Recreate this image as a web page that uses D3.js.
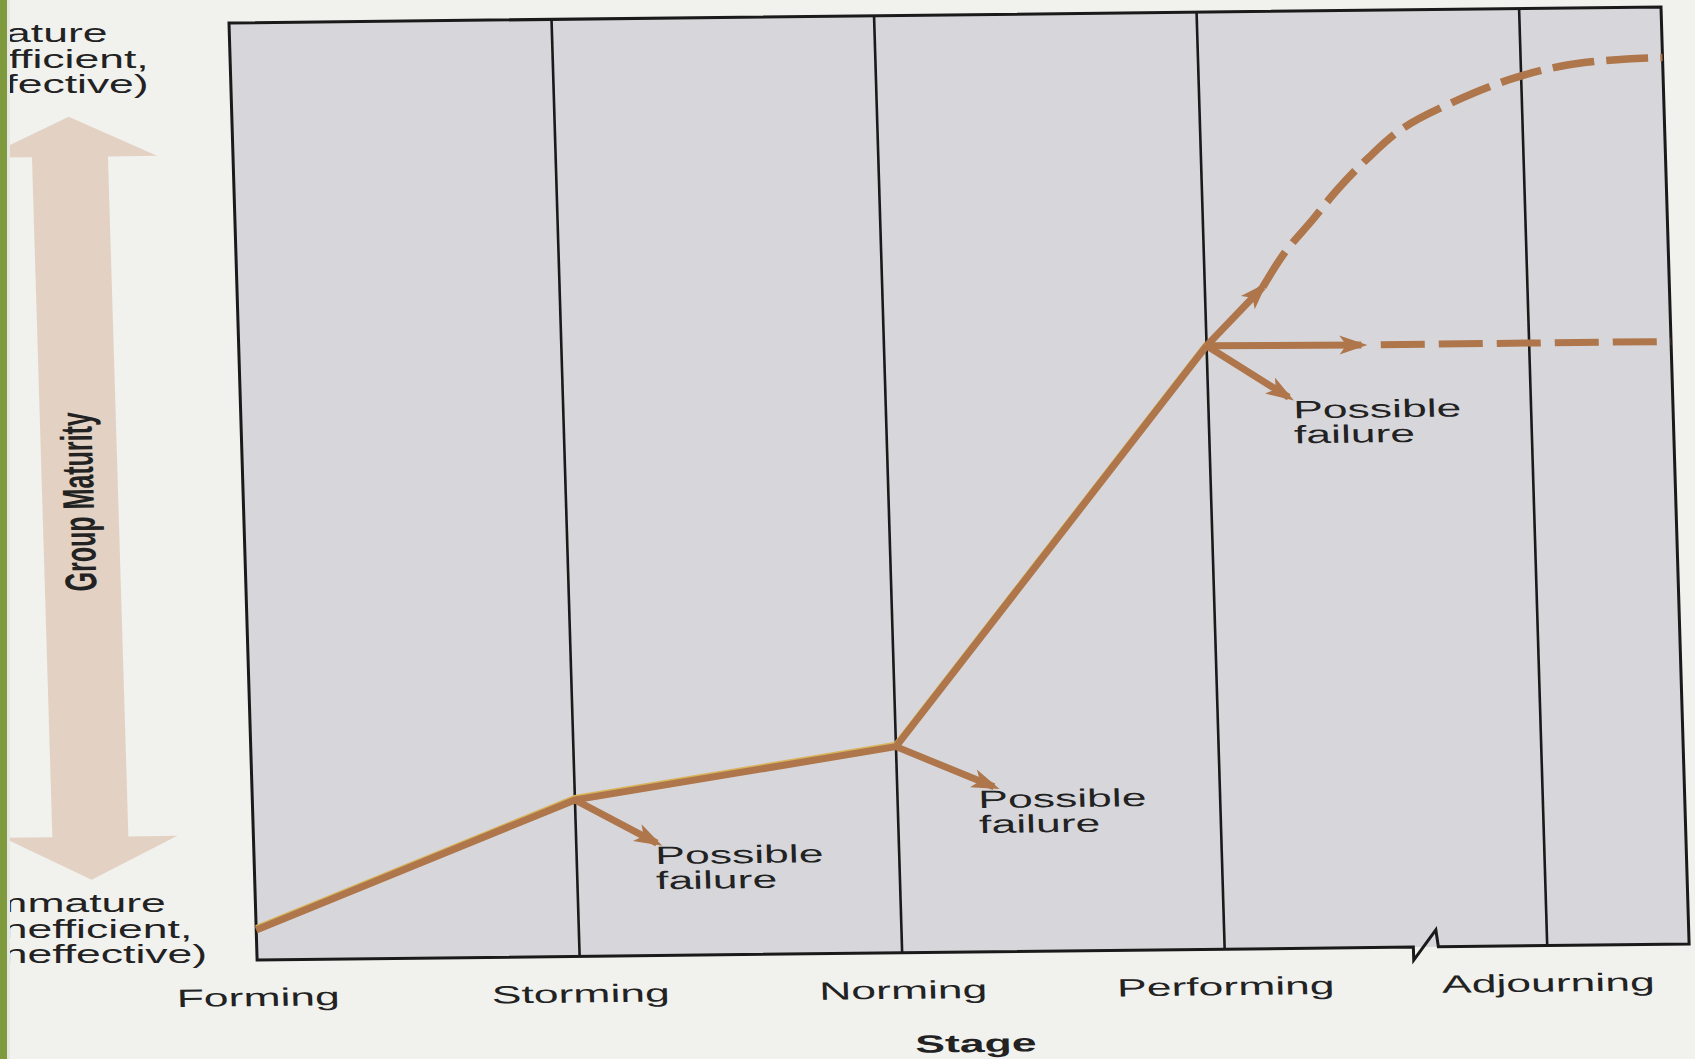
<!DOCTYPE html>
<html>
<head>
<meta charset="utf-8">
<script src="https://cdn.jsdelivr.net/npm/d3@7/dist/d3.min.js"></script>
<style>
  body { margin: 0; background: #f1f1ee; overflow: hidden; }
  text { font-family: "Liberation Sans", Arial, sans-serif; fill: #222; }
</style>
</head>
<body>
<div id="my_dataviz"></div>
<script>

// stages along the bottom (each one is a vertical line)
var stages = ["Forming", "Storming", "Norming", "Performing", "Adjourning"];
// group maturity (0-100) reached at the Forming..Performing lines
var maturity = [3.2, 16.7, 22.0, 64.4];
// "Possible failure" arrows: start stage and tip [stage position, maturity]
var failureFrom = [1, 2, 3];
var failureTip = [[1.25, 12.0], [2.30, 17.6], [3.25, 58.8]];
// after performing: keep growing (dashed curve) ...
var growthArrow = [3.18, 70.6];
var growthCurve = [[3.18, 70.6], [3.25, 74.2], [3.34, 77.7], [3.42, 80.9], [3.52, 84.3],
                   [3.63, 87.4], [3.78, 90.0], [3.96, 92.4], [4.14, 93.9], [4.33, 94.5], [4.44, 94.6]];
// ... or stay level (dashed straight line)
var steadyArrow = [3.48, 64.3];
var steadyLine = [[3.54, 64.3], [4.44, 64.3]];
var stageMax = 4.44;
var leftTop = ["Mature", "(efficient,", "effective)"];
var leftBottom = ["Immature", "(inefficient,", "(ineffective)"];

var fullW = 1695, fullH = 1059;
var width = 1432, height = 937;
var lineColor = "#ae764a";
var stretch = 1.78;   // the scan is wider than tall
var labelDx = [0, -14, 6];

var svg = d3.select("#my_dataviz")
    .append("svg")
    .attr("width", fullW)
    .attr("height", fullH);

svg.append("rect").attr("width", fullW).attr("height", fullH).attr("fill", "#f1f1ee");

// arrow head marker
svg.append("defs").append("marker")
    .attr("id", "head")
    .attr("viewBox", "-30 -11 32 22")
    .attr("refX", -6).attr("refY", 0)
    .attr("markerWidth", 32).attr("markerHeight", 22)
    .attr("markerUnits", "userSpaceOnUse")
    .attr("orient", "auto")
    .append("path")
    .attr("d", "M0,0 L-28,-9.5 L-21,0 L-28,9.5 Z")
    .attr("fill", lineColor);

// the printed page is a little skewed
var g = svg.append("g")
    .attr("transform", "matrix(1,-0.0112,0.030,1,229,23)");

var x = d3.scaleLinear().domain([0, stageMax]).range([0, width]);
var y = d3.scaleLinear().domain([0, 100]).range([height, 0]);

function stretched(sel, tx, ty) {
    sel.attr("transform", "translate(" + tx + "," + ty + ") scale(" + stretch + ",1)");
}

// big double arrow on the left
var cu = -163, sw = 38, hw = 87;
g.append("path")
    .attr("d", "M" + cu + ",92 L" + (cu + hw) + ",132 L" + (cu + sw) + ",132 L" + (cu + sw) + ",812 L" + (cu + hw) + ",812 L" + cu + ",855 L" + (cu - hw) + ",812 L" + (cu - sw) + ",812 L" + (cu - sw) + ",132 L" + (cu - hw) + ",132 Z")
    .attr("fill", "#e3d2c3");

g.append("text")
    .attr("text-anchor", "middle")
    .attr("font-weight", "bold")
    .attr("font-size", 25)
    .attr("transform", "translate(" + (cu - 2) + "," + 477 + ") rotate(-90) scale(1," + stretch + ")")
    .attr("dy", "0.35em")
    .text("Group Maturity");

// plot area
g.append("rect")
    .attr("width", width).attr("height", height)
    .attr("fill", "#d7d7db");

// stage lines
g.selectAll(".stage")
    .data(stages.slice(1))
    .enter().append("line")
    .attr("x1", function (d, i) { return x(i + 1); })
    .attr("x2", function (d, i) { return x(i + 1); })
    .attr("y1", 0).attr("y2", height)
    .attr("stroke", "#1a1a1a").attr("stroke-width", 2.6);

// frame, with the break mark on the bottom edge
var bx = x(3.585);
g.append("path")
    .attr("d", "M" + bx + "," + height + " L0," + height + " L0,0 L" + width + ",0 L" + width + "," + height +
        " L" + (bx + 25) + "," + height + " L" + (bx + 23) + "," + (height - 17) + " L" + bx + "," + (height + 13) + " Z")
    .attr("fill", "none").attr("stroke", "#1a1a1a").attr("stroke-width", 3)
    .attr("stroke-linejoin", "miter");

// main path
var line = d3.line().x(function (d) { return x(d[0]); }).y(function (d) { return y(d[1]); });
var mainPts = maturity.map(function (m, i) { return [i, m]; });
g.append("path")
    .attr("d", line(mainPts))
    .attr("transform", "translate(0,-2.5)")
    .attr("fill", "none").attr("stroke", "#d8b45e").attr("stroke-width", 5);
g.append("path")
    .attr("d", line(mainPts))
    .attr("fill", "none").attr("stroke", lineColor).attr("stroke-width", 7)
    .attr("stroke-linejoin", "round");

// arrows
var arrows = failureFrom.map(function (s, i) { return [[s, maturity[s]], failureTip[i]]; });
arrows.push([[3, maturity[3]], growthArrow]);
arrows.push([[3, maturity[3]], steadyArrow]);
g.selectAll(".arrow")
    .data(arrows)
    .enter().append("path")
    .attr("d", line)
    .attr("fill", "none").attr("stroke", lineColor).attr("stroke-width", 7)
    .attr("marker-end", "url(#head)");

// dashed continuations
g.append("path")
    .attr("d", line.curve(d3.curveCatmullRom)(growthCurve))
    .attr("fill", "none").attr("stroke", lineColor).attr("stroke-width", 7.5)
    .attr("stroke-dasharray", "42,12");
line.curve(d3.curveLinear);
g.append("path")
    .attr("d", line(steadyLine))
    .attr("fill", "none").attr("stroke", lineColor).attr("stroke-width", 7)
    .attr("stroke-dasharray", "44,14");

// "Possible failure" labels
failureTip.forEach(function (d, i) {
    ["Possible", "failure"].forEach(function (t, k) {
        g.append("text")
            .attr("font-size", 25)
            .call(stretched, x(d[0]) - 2 + labelDx[i], y(d[1]) + 21 + k * 25)
            .text(t);
    });
});

// stage labels
g.selectAll(".stageLabel")
    .data(stages)
    .enter().append("text")
    .attr("text-anchor", "middle")
    .attr("font-size", 25)
    .each(function (d, i) { d3.select(this).call(stretched, x(i), height + 46); })
    .text(function (d) { return d; });

g.append("text")
    .attr("text-anchor", "middle")
    .attr("font-size", 25)
    .attr("font-weight", "bold")
    .call(stretched, width / 2, height + 100)
    .text("Stage");

// maturity end labels (cut by the page edge)
leftTop.forEach(function (t, k) {
    svg.append("text").attr("font-size", 25).call(stretched, -31, 42 + k * 25.5).text(t);
});
leftBottom.forEach(function (t, k) {
    svg.append("text").attr("font-size", 25).call(stretched, -22, 912 + k * 25.5).text(t);
});

// green edge of the slide
svg.append("rect").attr("width", 7).attr("height", fullH).attr("fill", "#7f9a3c");
svg.append("rect").attr("x", 7).attr("width", 3).attr("height", fullH).attr("fill", "#e6e6e2");

</script>
</body>
</html>
